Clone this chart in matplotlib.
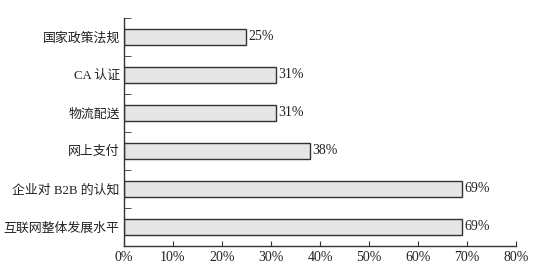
import numpy as np
import matplotlib.pyplot as plt

plt.rcParams['font.family'] = ['Liberation Serif', 'Noto Sans CJK SC']

categories = ['互联网整体发展水平', '企业对 B2B 的认知', '网上支付', '物流配送', 'CA 认证', '国家政策法规']
values = [69, 69, 38, 31, 31, 25]
xticks = [0, 10, 20, 30, 40, 50, 60, 70, 80]

fig = plt.figure(figsize=(5.58, 2.67), dpi=100)
ax = fig.add_axes([0.222, 0.079, 0.703, 0.854])

y = np.arange(len(categories))
ax.barh(y, values, height=0.41, color='#e6e6e6', edgecolor='#333333', linewidth=1.0)
for yi, v in zip(y, values):
    ax.text(v + 0.4, yi, f'{v}%', va='center', ha='left', fontsize=10, color='#222222')

ax.set_xlim(0, 80)
ax.set_ylim(-0.5, len(categories) - 0.5)
ax.set_xticks(xticks)
ax.set_xticklabels([f'{t}%' for t in xticks], fontsize=10, color='#222222')
ax.set_yticks(y)
ax.set_yticklabels(categories, fontsize=9.3, color='#222222')
ax.set_yticks(np.arange(-0.5, len(categories)), minor=True)
ax.tick_params(axis='y', which='major', length=0, pad=3)
ax.tick_params(axis='y', which='minor', direction='in', length=5, color='#333333')
ax.tick_params(axis='x', direction='in', length=3.6, color='#333333', pad=4)

for s in ['top', 'right']:
    ax.spines[s].set_visible(False)
for s in ['left', 'bottom']:
    ax.spines[s].set_color('#333333')
    ax.spines[s].set_linewidth(1.0)

fig.savefig('out.png', dpi=100)
